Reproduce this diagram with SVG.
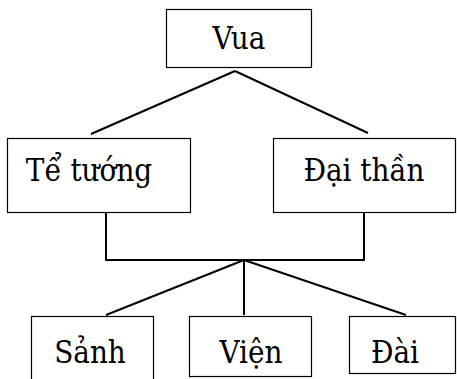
<svg xmlns="http://www.w3.org/2000/svg" width="457" height="379" viewBox="0 0 457 379">
<style>
.box{fill:#fff;stroke:#000;stroke-width:1.2}
text{font-family:'DejaVu Serif Condensed','DejaVu Serif',serif;font-stretch:condensed;font-size:31px;fill:#000;text-anchor:middle}
.con{stroke:#000;stroke-width:2;fill:none}
</style>
<rect width="457" height="379" fill="#fff"/>
<g id="connectors">
<line class="con" x1="235" y1="71" x2="91" y2="134"/>
<line class="con" x1="235" y1="71" x2="368" y2="133"/>
<polyline class="con" points="106,213 106,260 364,260 364,213"/>
<line class="con" x1="244" y1="260" x2="106" y2="315"/>
<line class="con" x1="244" y1="260" x2="244" y2="315"/>
<line class="con" x1="244" y1="260" x2="406" y2="315"/>
</g>
<g id="vua">
<rect class="box" x="166.5" y="9.5" width="145" height="58"/>
<text x="239" y="49">Vua</text>
</g>
<g id="te-tuong">
<rect class="box" x="7.5" y="138.5" width="183" height="74"/>
<text x="89" y="181">Tể tướng</text>
</g>
<g id="dai-than">
<rect class="box" x="273.5" y="138.5" width="182" height="74"/>
<text x="364" y="181">Đại thần</text>
</g>
<g id="sanh">
<rect class="box" x="31.5" y="316.5" width="122" height="70"/>
<text x="90" y="363">Sảnh</text>
</g>
<g id="vien">
<rect class="box" x="189.5" y="316.5" width="122" height="60"/>
<text x="251" y="363">Viện</text>
</g>
<g id="dai">
<rect class="box" x="349.5" y="316.5" width="106" height="57"/>
<text x="395" y="363">Đài</text>
</g>
</svg>
